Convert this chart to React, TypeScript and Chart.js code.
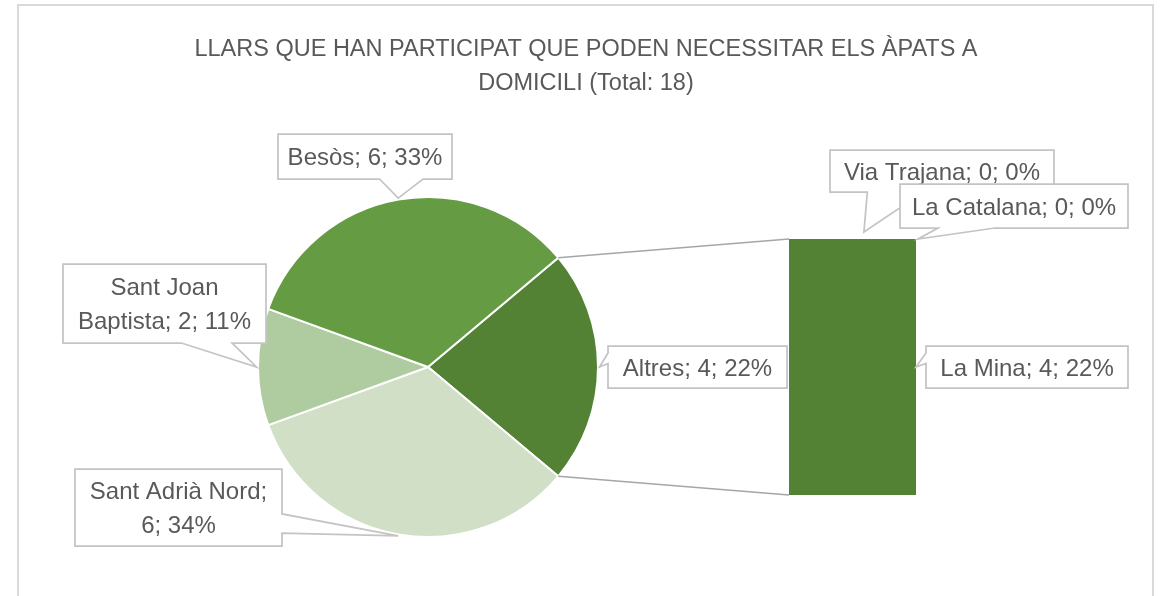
import React, { useEffect, useRef } from "react";
import { Chart, registerables } from "chart.js";

Chart.register(...registerables);

// ---------- data ----------
const TITLE_LINES = [
  "LLARS QUE HAN PARTICIPAT QUE PODEN NECESSITAR ELS ÀPATS A",
  "DOMICILI (Total: 18)",
];

// main pie (clockwise, starting with the combined "Altres" slice)
const pieLabels = ["Altres", "Sant Adrià Nord", "Sant Joan Baptista", "Besòs"];
const pieValues = [4, 6, 2, 6];
const piePercents = ["22%", "34%", "11%", "33%"];
const pieColors = ["#548235", "#D0DFC6", "#AECCA0", "#659B42"];

// secondary stacked bar (breakdown of "Altres"), bottom to top
const barLabels = ["La Mina", "La Catalana", "Via Trajana"];
const barValues = [4, 0, 0];
const barPercents = ["22%", "0%", "0%"];
const barColor = "#548235";

// ---------- layout / style ----------
const W = 1160;
const H = 596;
const FONT = '24px "Liberation Sans", Arial, sans-serif';
const TITLE_FONT = '23.5px "Liberation Sans", Arial, sans-serif';
const TEXT_COLOR = "#595959";
const CALLOUT_BORDER = "#c4c4c4";
const LEADER_COLOR = "#a6a6a6";

type Box = { x: number; y: number; w: number; h: number };

// callout boxes (label placement), in pie order
const PIE_CALLOUT_BOXES: Box[] = [
  { x: 608, y: 346, w: 179, h: 42 },
  { x: 75, y: 469, w: 207, h: 77 },
  { x: 63, y: 264, w: 203, h: 79 },
  { x: 278, y: 134, w: 174, h: 45 },
];
// in bar order
const BAR_CALLOUT_BOXES: Box[] = [
  { x: 926, y: 346, w: 202, h: 42 },
  { x: 900, y: 184, w: 228, h: 44 },
  { x: 830, y: 150, w: 224, h: 42 },
];
// anchor on bar segment: fraction of width / height, plus pixel nudge
const BAR_ANCHORS = [
  { fx: 1, fy: 0.5, dx: 0, dy: 0 },
  { fx: 1, fy: 0, dx: 2, dy: 0 },
  { fx: 0.59, fy: 0, dx: 0, dy: -7 },
];
const BAR_DRAW_ORDER = [0, 2, 1];

function wrapText(ctx: CanvasRenderingContext2D, text: string, maxW: number): string[] {
  const words = text.split(" ");
  const lines: string[] = [];
  let cur = "";
  for (const w of words) {
    const t = cur ? cur + " " + w : w;
    if (cur && ctx.measureText(t).width > maxW) {
      lines.push(cur);
      cur = w;
    } else cur = t;
  }
  if (cur) lines.push(cur);
  return lines;
}

function drawCallout(
  ctx: CanvasRenderingContext2D,
  box: Box,
  ax: number,
  ay: number,
  text: string
) {
  const { x, y, w, h } = box;
  const cx = x + w / 2;
  const cy = y + h / 2;
  const dx = ax - cx;
  const dy = ay - cy;
  const inside = ax >= x && ax <= x + w && ay >= y && ay <= y + h;
  let side = "";
  if (!inside) {
    if (Math.abs(dy) / h > Math.abs(dx) / w) side = dy > 0 ? "bottom" : "top";
    else side = dx > 0 ? "right" : "left";
  }
  const fx1 = dx > 0 ? 7 / 12 : 2 / 12;
  const fx2 = dx > 0 ? 10 / 12 : 5 / 12;
  const fy1 = dy > 0 ? 7 / 12 : 2 / 12;
  const fy2 = dy > 0 ? 10 / 12 : 5 / 12;

  ctx.save();
  ctx.beginPath();
  ctx.moveTo(x, y);
  if (side === "top") {
    ctx.lineTo(x + w * fx1, y);
    ctx.lineTo(ax, ay);
    ctx.lineTo(x + w * fx2, y);
  }
  ctx.lineTo(x + w, y);
  if (side === "right") {
    ctx.lineTo(x + w, y + h * fy1);
    ctx.lineTo(ax, ay);
    ctx.lineTo(x + w, y + h * fy2);
  }
  ctx.lineTo(x + w, y + h);
  if (side === "bottom") {
    ctx.lineTo(x + w * fx2, y + h);
    ctx.lineTo(ax, ay);
    ctx.lineTo(x + w * fx1, y + h);
  }
  ctx.lineTo(x, y + h);
  if (side === "left") {
    ctx.lineTo(x, y + h * fy2);
    ctx.lineTo(ax, ay);
    ctx.lineTo(x, y + h * fy1);
  }
  ctx.closePath();
  ctx.fillStyle = "#ffffff";
  ctx.fill();
  ctx.lineWidth = 1.75;
  ctx.strokeStyle = CALLOUT_BORDER;
  ctx.lineJoin = "miter";
  ctx.stroke();

  ctx.font = FONT;
  ctx.fillStyle = TEXT_COLOR;
  ctx.textAlign = "center";
  ctx.textBaseline = "alphabetic";
  const lines = wrapText(ctx, text, w - 14);
  const lh = 33.5;
  const cap = 17.2;
  lines.forEach((ln, i) => {
    const base = cy + (i - (lines.length - 1) / 2) * lh + cap / 2;
    ctx.fillText(ln, cx, base);
  });
  ctx.restore();
}

export default function App() {
  const pieRef = useRef<HTMLCanvasElement | null>(null);
  const barRef = useRef<HTMLCanvasElement | null>(null);

  useEffect(() => {
    if (!pieRef.current || !barRef.current) return;

    const pieChart = new Chart(pieRef.current, {
      type: "pie",
      data: {
        labels: pieLabels,
        datasets: [
          {
            data: pieValues,
            backgroundColor: pieColors,
            borderColor: "#ffffff",
            borderWidth: 2,
          },
        ],
      },
      options: {
        responsive: false,
        animation: false,
        rotation: 50,
        layout: { padding: { left: 257, right: W - 599, top: 196, bottom: H - 538 } },
        plugins: { legend: { display: false }, tooltip: { enabled: false }, title: { display: false } },
      },
    });

    const barTotal = barValues.reduce((a, b) => a + b, 0);

    const overlay = {
      id: "overlay",
      afterDraw(chart: any) {
        const ctx: CanvasRenderingContext2D = chart.ctx;
        // title
        ctx.save();
        ctx.font = TITLE_FONT;
        ctx.fillStyle = TEXT_COLOR;
        ctx.textAlign = "center";
        ctx.textBaseline = "alphabetic";
        ctx.fillText(TITLE_LINES[0], 586, 56);
        ctx.fillText(TITLE_LINES[1], 586, 90);
        ctx.restore();

        const pieMeta = pieChart.getDatasetMeta(0);
        const arcs: any[] = pieMeta.data as any[];
        const barMetas = barLabels.map((_, i) => chart.getDatasetMeta(i));
        const yScale = chart.scales.y;
        const bar0: any = barMetas[0].data[0];
        const barLeft = bar0.x - bar0.width / 2;
        const barTop = yScale.getPixelForValue(barTotal);
        const barBottom = yScale.getPixelForValue(0);

        // leader lines from the "Altres" slice to the bar
        const a0 = arcs[0];
        const r0 = a0.outerRadius;
        ctx.save();
        ctx.strokeStyle = LEADER_COLOR;
        ctx.lineWidth = 1.5;
        ctx.beginPath();
        ctx.moveTo(a0.x + r0 * Math.cos(a0.startAngle), a0.y + r0 * Math.sin(a0.startAngle));
        ctx.lineTo(barLeft, barTop);
        ctx.moveTo(a0.x + r0 * Math.cos(a0.endAngle), a0.y + r0 * Math.sin(a0.endAngle));
        ctx.lineTo(barLeft, barBottom);
        ctx.stroke();
        ctx.restore();

        // pie callouts
        arcs.forEach((arc: any, i: number) => {
          const mid = (arc.startAngle + arc.endAngle) / 2;
          const rr = arc.outerRadius + 1.5;
          const ax = arc.x + rr * Math.cos(mid);
          const ay = arc.y + rr * Math.sin(mid);
          const text = `${pieLabels[i]}; ${pieValues[i]}; ${piePercents[i]}`;
          drawCallout(ctx, PIE_CALLOUT_BOXES[i], ax, ay, text);
        });

        // bar callouts
        BAR_DRAW_ORDER.forEach((i) => {
          const el: any = barMetas[i].data[0];
          const left = el.x - el.width / 2;
          const top = Math.min(el.y, el.base);
          const hgt = Math.abs(el.base - el.y);
          const an = BAR_ANCHORS[i];
          const ax = left + an.fx * el.width + an.dx;
          const ay = top + an.fy * hgt + an.dy;
          const text = `${barLabels[i]}; ${barValues[i]}; ${barPercents[i]}`;
          drawCallout(ctx, BAR_CALLOUT_BOXES[i], ax, ay, text);
        });
      },
    };

    const barChart = new Chart(barRef.current, {
      type: "bar",
      data: {
        labels: [""],
        datasets: barLabels.map((l, i) => ({
          label: l,
          data: [barValues[i]],
          backgroundColor: barColor,
          borderWidth: 0,
          categoryPercentage: 1,
          barPercentage: 1,
        })),
      },
      options: {
        responsive: false,
        animation: false,
        layout: { padding: { left: 789, right: W - 916, top: 239, bottom: H - 495 } },
        scales: {
          x: { display: false, stacked: true },
          y: { display: false, stacked: true, min: 0, max: barTotal },
        },
        plugins: { legend: { display: false }, tooltip: { enabled: false }, title: { display: false } },
      },
      plugins: [overlay],
    });

    return () => {
      barChart.destroy();
      pieChart.destroy();
    };
  }, []);

  return (
    <div
      style={{
        position: "absolute",
        left: 0,
        top: 0,
        width: W,
        height: H,
        overflow: "hidden",
        background: "#ffffff",
      }}
    >
      <div
        style={{
          position: "absolute",
          left: 17,
          top: 4,
          width: 1137,
          height: 700,
          boxSizing: "border-box",
          border: "2px solid #d9d9d9",
        }}
      />
      <canvas
        ref={pieRef}
        width={W}
        height={H}
        style={{ position: "absolute", left: 0, top: 0, width: W, height: H }}
      />
      <canvas
        ref={barRef}
        width={W}
        height={H}
        style={{ position: "absolute", left: 0, top: 0, width: W, height: H }}
      />
    </div>
  );
}
